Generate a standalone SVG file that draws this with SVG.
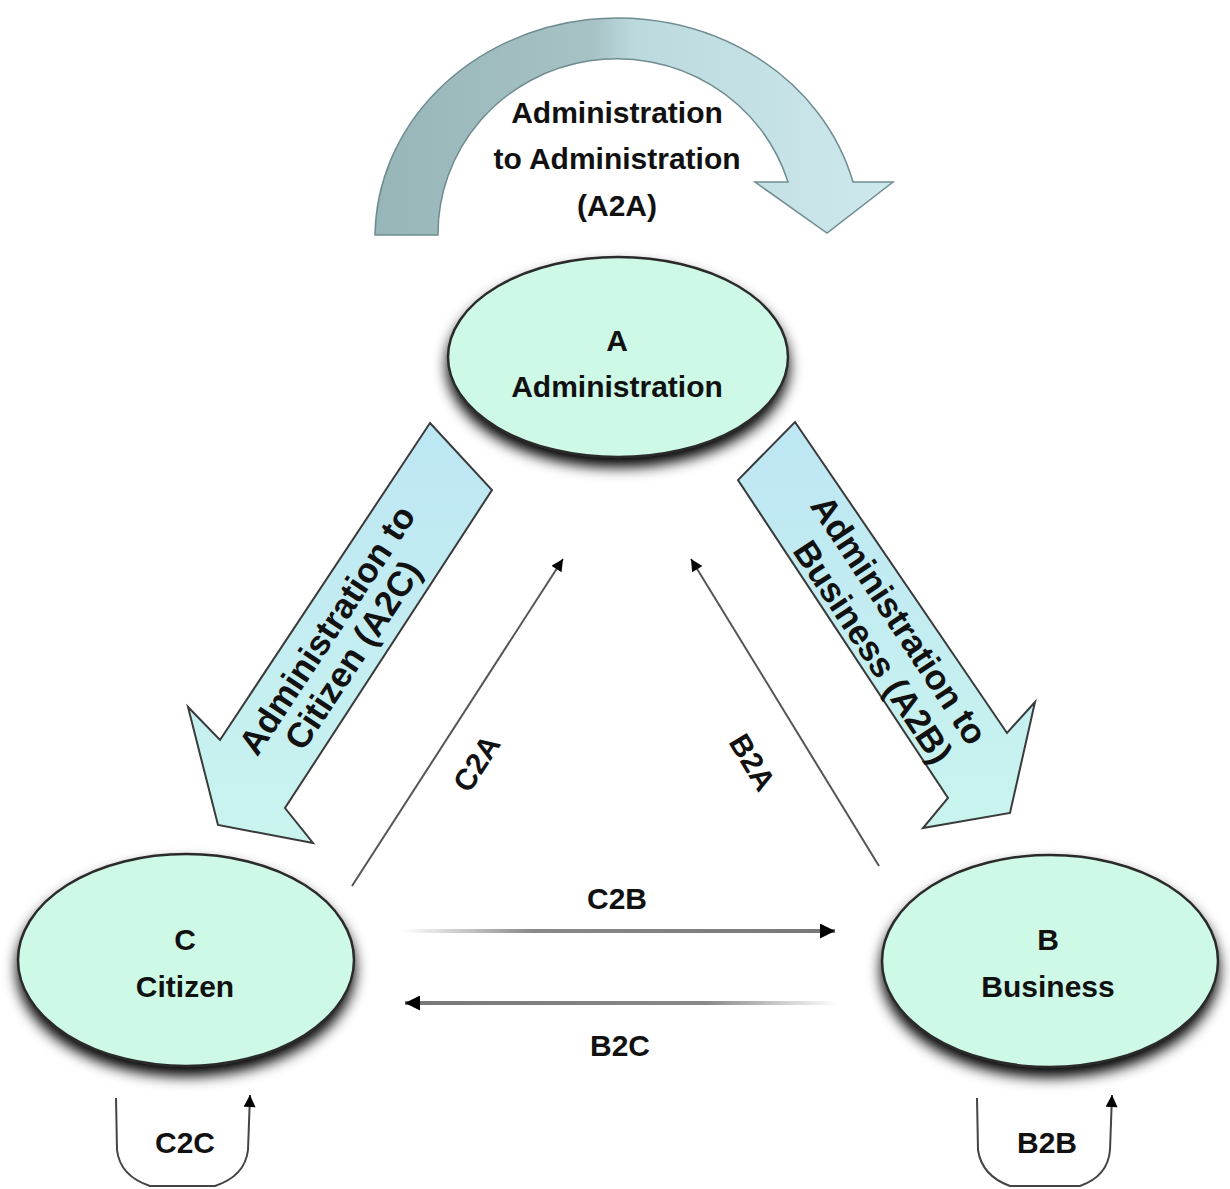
<svg xmlns="http://www.w3.org/2000/svg" width="1230" height="1189" viewBox="0 0 1230 1189">
<style>
.t{font-family:"Liberation Sans",Arial,sans-serif;font-weight:bold;font-size:30px;fill:#111;text-anchor:middle}
.r{font-size:35px}
.node{fill:#cdf9e6;stroke:#2a2a2a;stroke-width:2.5;filter:url(#sh)}
.thin{fill:none;stroke:#444;stroke-width:2}
.big{stroke:#3a3a3a;stroke-width:2;stroke-linejoin:miter}
</style>
<defs>
<filter id="sh" x="-20%" y="-20%" width="140%" height="150%">
<feGaussianBlur in="SourceAlpha" stdDeviation="7"/>
<feOffset dx="0" dy="9" result="b"/>
<feComponentTransfer><feFuncA type="linear" slope="1"/></feComponentTransfer>
<feMerge><feMergeNode/><feMergeNode in="SourceGraphic"/></feMerge>
</filter>
<linearGradient id="arc" x1="375" y1="0" x2="893" y2="0" gradientUnits="userSpaceOnUse">
<stop offset="0" stop-color="#98b5b8"/>
<stop offset="0.42" stop-color="#a6c2c5"/>
<stop offset="0.5" stop-color="#bcd9de"/>
<stop offset="1" stop-color="#cde9ee"/>
</linearGradient>
<linearGradient id="bl" x1="0" y1="0" x2="0" y2="1">
<stop offset="0" stop-color="#bde6f4"/>
<stop offset="1" stop-color="#c9f4ee"/>
</linearGradient>
<linearGradient id="gr1" x1="402" y1="0" x2="835" y2="0" gradientUnits="userSpaceOnUse">
<stop offset="0" stop-color="#fff"/>
<stop offset="0.3" stop-color="#8a8a8a"/>
<stop offset="1" stop-color="#777"/>
</linearGradient>
<linearGradient id="gr2" x1="837" y1="0" x2="405" y2="0" gradientUnits="userSpaceOnUse">
<stop offset="0" stop-color="#fff"/>
<stop offset="0.3" stop-color="#8a8a8a"/>
<stop offset="1" stop-color="#777"/>
</linearGradient>
<marker id="ah" viewBox="0 0 10 10" refX="10" refY="5" markerWidth="18" markerHeight="15" markerUnits="userSpaceOnUse" orient="auto">
<path d="M0,0 L10,5 L0,10 z" fill="#000"/>
</marker>
<marker id="ahs" viewBox="0 0 10 10" refX="10" refY="5" markerWidth="18" markerHeight="12" markerUnits="userSpaceOnUse" orient="auto">
<path d="M0,0 L10,5 L0,10 z" fill="#000"/>
</marker>
</defs>
<rect width="1230" height="1189" fill="#fff"/>
<g id="connectors">
<g id="a2a">
<path d="M375,235 A243,220 0 0 1 853,182 L893,182 L827,233 L755,182 L788,182 A179,175 0 0 0 438,235 Z" fill="url(#arc)" stroke="#6f8d90" stroke-width="1.5"/>
<text class="t" x="617" y="123">Administration</text>
<text class="t" x="617" y="169">to Administration</text>
<text class="t" x="617" y="216">(A2A)</text>
</g>
<g id="a2c">
<path class="big" d="M430,423 L492,490 L285,808 L313,843 L218,825 L188,707 L220,740 Z" fill="url(#bl)"/>
<text class="t r" transform="translate(327,630) rotate(-56.6)" x="0" y="12">Administration to</text>
<text class="t r" transform="translate(353,655) rotate(-56.6)" x="0" y="12">Citizen (A2C)</text>
</g>
<g id="a2b">
<path class="big" d="M795,422 L1007,733 L1035,702 L1010,813 L923,828 L948,798 L738,480 Z" fill="url(#bl)"/>
<text class="t r" transform="translate(899,620) rotate(56.6)" x="0" y="12">Administration to</text>
<text class="t r" transform="translate(873,652) rotate(56.6)" x="0" y="12">Business (A2B)</text>
</g>
<g id="c2a">
<line x1="352" y1="886" x2="563" y2="559" stroke="#555" stroke-width="2" marker-end="url(#ahs)"/>
<text class="t" transform="translate(476,763) rotate(-57)" x="0" y="11">C2A</text>
</g>
<g id="b2a">
<line x1="879" y1="866" x2="691" y2="559" stroke="#555" stroke-width="2" marker-end="url(#ahs)"/>
<text class="t" transform="translate(753,762) rotate(59)" x="0" y="11">B2A</text>
</g>
<g id="c2b">
<line x1="402" y1="931" x2="835" y2="931" stroke="url(#gr1)" stroke-width="4" marker-end="url(#ah)"/>
<text class="t" x="617" y="909">C2B</text>
</g>
<g id="b2c">
<line x1="837" y1="1003" x2="405" y2="1003" stroke="url(#gr2)" stroke-width="4" marker-end="url(#ah)"/>
<text class="t" x="620" y="1056">B2C</text>
</g>
<g id="c2c">
<path class="thin" d="M116,1098 L117,1150 Q120,1176 150,1186 L215,1186 Q245,1176 248,1150 L250,1095" marker-end="url(#ahs)"/>
<text class="t" x="185" y="1153">C2C</text>
</g>
<g id="b2b">
<path class="thin" d="M977,1098 L978,1150 Q982,1176 1010,1186 L1080,1186 Q1108,1176 1110,1150 L1112,1095" marker-end="url(#ahs)"/>
<text class="t" x="1047" y="1153">B2B</text>
</g>
</g>
<g id="node-a">
<ellipse class="node" cx="618" cy="357" rx="170" ry="100"/>
<text class="t" x="617" y="351">A</text>
<text class="t" x="617" y="397">Administration</text>
</g>
<g id="node-c">
<ellipse class="node" cx="186" cy="960" rx="168" ry="106"/>
<text class="t" x="185" y="950">C</text>
<text class="t" x="185" y="997">Citizen</text>
</g>
<g id="node-b">
<ellipse class="node" cx="1050" cy="961" rx="168" ry="106"/>
<text class="t" x="1048" y="950">B</text>
<text class="t" x="1048" y="997">Business</text>
</g>
</svg>
